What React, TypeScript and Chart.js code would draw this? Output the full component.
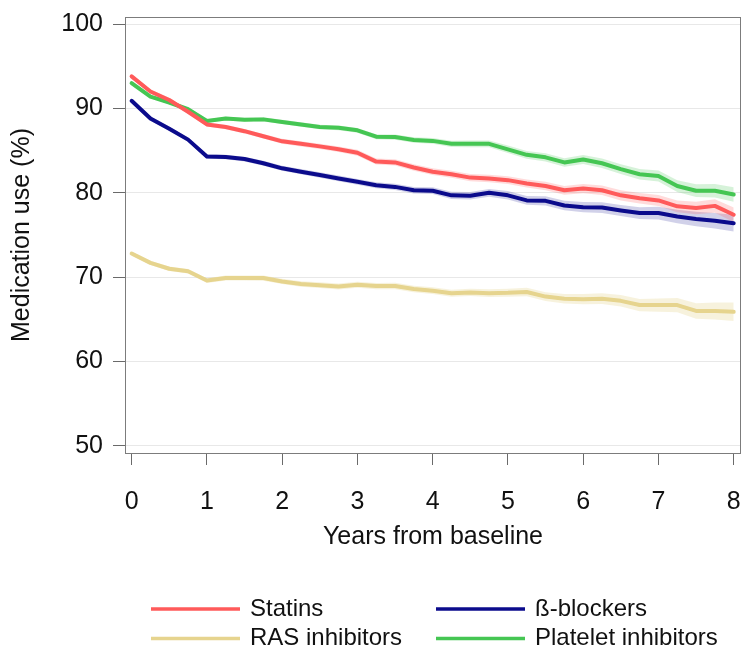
import React, { useEffect, useRef } from "react";
import { Chart, registerables } from "chart.js";

Chart.register(...registerables);

// ---- data ----
const years = [0, 0.25, 0.5, 0.75, 1, 1.25, 1.5, 1.75, 2, 2.25, 2.5, 2.75, 3, 3.25, 3.5, 3.75, 4, 4.25, 4.5, 4.75, 5, 5.25, 5.5, 5.75, 6, 6.25, 6.5, 6.75, 7, 7.25, 7.5, 7.75, 8];

const statins = [93.8, 92.0, 91.0, 89.6, 88.1, 87.8, 87.3, 86.7, 86.1, 85.8, 85.5, 85.15, 84.75, 83.7, 83.6, 83.0, 82.5, 82.2, 81.8, 81.7, 81.5, 81.1, 80.8, 80.3, 80.5, 80.3, 79.7, 79.35, 79.1, 78.4, 78.2, 78.45, 77.4];
const blockers = [90.9, 88.8, 87.6, 86.3, 84.3, 84.25, 84.0, 83.5, 82.9, 82.5, 82.1, 81.7, 81.3, 80.9, 80.7, 80.3, 80.25, 79.7, 79.65, 80.0, 79.7, 79.1, 79.05, 78.5, 78.3, 78.25, 77.9, 77.6, 77.6, 77.2, 76.9, 76.7, 76.4];
const ras = [72.8, 71.7, 71.0, 70.7, 69.6, 69.9, 69.9, 69.9, 69.5, 69.2, 69.05, 68.9, 69.1, 68.95, 68.95, 68.6, 68.4, 68.1, 68.2, 68.1, 68.15, 68.25, 67.7, 67.45, 67.4, 67.45, 67.2, 66.7, 66.7, 66.7, 66.0, 66.0, 65.9];
const platelet = [93.0, 91.4, 90.7, 89.9, 88.5, 88.8, 88.65, 88.7, 88.4, 88.1, 87.8, 87.7, 87.4, 86.65, 86.6, 86.25, 86.15, 85.8, 85.8, 85.8, 85.15, 84.5, 84.2, 83.6, 83.95, 83.5, 82.8, 82.2, 82.0, 80.8, 80.25, 80.25, 79.8];

// confidence-band half widths (percentage points)
const statinsCI = [0.25, 0.25, 0.25, 0.25, 0.25, 0.26, 0.27, 0.28, 0.3, 0.31, 0.32, 0.33, 0.35, 0.36, 0.37, 0.38, 0.4, 0.41, 0.42, 0.44, 0.45, 0.47, 0.5, 0.52, 0.55, 0.57, 0.6, 0.62, 0.65, 0.7, 0.75, 0.8, 0.85];
const blockersCI = [0.25, 0.25, 0.25, 0.25, 0.26, 0.27, 0.28, 0.29, 0.3, 0.31, 0.33, 0.34, 0.35, 0.36, 0.38, 0.39, 0.4, 0.42, 0.44, 0.46, 0.5, 0.52, 0.55, 0.57, 0.6, 0.63, 0.66, 0.7, 0.75, 0.8, 0.86, 0.92, 1.0];
const rasCI = [0.25, 0.25, 0.26, 0.27, 0.28, 0.29, 0.3, 0.31, 0.32, 0.33, 0.34, 0.35, 0.36, 0.37, 0.38, 0.39, 0.4, 0.42, 0.44, 0.46, 0.48, 0.5, 0.53, 0.56, 0.6, 0.64, 0.68, 0.72, 0.78, 0.85, 0.92, 1.0, 1.1];
const plateletCI = [0.2, 0.2, 0.2, 0.2, 0.21, 0.22, 0.23, 0.24, 0.25, 0.26, 0.27, 0.28, 0.29, 0.3, 0.31, 0.33, 0.35, 0.37, 0.39, 0.41, 0.44, 0.46, 0.48, 0.5, 0.53, 0.55, 0.58, 0.61, 0.65, 0.7, 0.75, 0.8, 0.85];

const seriesNames = ["Statins", "ß-blockers", "RAS inhibitors", "Platelet inhibitors"];
const xTicks = [0, 1, 2, 3, 4, 5, 6, 7, 8];
const yTicks = [50, 60, 70, 80, 90, 100];
const xTitle = "Years from baseline";
const yTitle = "Medication use (%)";

// ---- styles ----
const FONT = '"Liberation Sans", Arial, Helvetica, sans-serif';
const TEXT = "#111111";
const lineColors = ["#ff5a5a", "#0b0b8c", "#e6d48e", "#45c653"];
const bandColors = [
  "rgba(255,90,90,0.22)",
  "rgba(11,11,140,0.19)",
  "rgba(230,212,142,0.30)",
  "rgba(69,198,83,0.22)",
];

const seriesValues = [statins, blockers, ras, platelet];
const seriesCI = [statinsCI, blockersCI, rasCI, plateletCI];

const pts = (vals: number[]) => years.map((x, i) => ({ x, y: vals[i] }));

const zeroPad = (scale: any) => {
  scale.paddingLeft = 0;
  scale.paddingRight = 0;
  scale.paddingTop = 0;
  scale.paddingBottom = 0;
};

const boxPlugin = {
  id: "frameBox",
  afterDraw(chart: any) {
    const { ctx, chartArea } = chart;
    ctx.save();
    ctx.strokeStyle = "#7c7c7c";
    ctx.lineWidth = 1;
    ctx.strokeRect(
      Math.round(chartArea.left) + 0.5,
      Math.round(chartArea.top) + 0.5,
      Math.round(chartArea.right - chartArea.left) - 1,
      Math.round(chartArea.bottom - chartArea.top)
    );
    ctx.restore();
  },
};

const legendPlugin = {
  id: "gridLegend",
  afterDraw(chart: any) {
    const ctx = chart.ctx;
    const colX = [151, 436];
    const rowY = [609, 638.5];
    const lineLen = 89;
    const gap = 10;
    const layout = [
      { s: 0, c: 0, r: 0 },
      { s: 1, c: 1, r: 0 },
      { s: 2, c: 0, r: 1 },
      { s: 3, c: 1, r: 1 },
    ];
    ctx.save();
    ctx.font = `24px ${FONT}`;
    ctx.textBaseline = "middle";
    ctx.textAlign = "left";
    layout.forEach(({ s, c, r }) => {
      const x = colX[c];
      const y = rowY[r];
      ctx.strokeStyle = lineColors[s];
      ctx.lineWidth = 3.5;
      ctx.beginPath();
      ctx.moveTo(x, y);
      ctx.lineTo(x + lineLen, y);
      ctx.stroke();
      ctx.fillStyle = TEXT;
      ctx.fillText(seriesNames[s], x + lineLen + gap, y);
    });
    ctx.restore();
  },
};

export default function App() {
  const ref = useRef<HTMLCanvasElement | null>(null);

  useEffect(() => {
    document.body.style.margin = "0";
    if (!ref.current) return;

    const lineSets = seriesValues.map((vals, i) => ({
      label: seriesNames[i],
      data: pts(vals),
      borderColor: lineColors[i],
      backgroundColor: lineColors[i],
      borderWidth: 4,
      borderJoinStyle: "round" as const,
      borderCapStyle: "round" as const,
      pointRadius: 0,
      tension: 0,
      fill: false,
      order: 0,
    }));

    const bandSets: any[] = [];
    seriesValues.forEach((vals, i) => {
      const ci = seriesCI[i];
      const lowIndex = lineSets.length + bandSets.length;
      bandSets.push({
        label: seriesNames[i] + " lower",
        data: years.map((x, k) => ({ x, y: vals[k] - ci[k] })),
        borderColor: "rgba(0,0,0,0)",
        borderWidth: 0,
        pointRadius: 0,
        tension: 0,
        fill: false,
        order: 1,
      });
      bandSets.push({
        label: seriesNames[i] + " upper",
        data: years.map((x, k) => ({ x, y: vals[k] + ci[k] })),
        borderColor: "rgba(0,0,0,0)",
        backgroundColor: bandColors[i],
        borderWidth: 0,
        pointRadius: 0,
        tension: 0,
        fill: { target: lowIndex },
        order: 1,
      });
    });

    const chart = new Chart(ref.current, {
      type: "line",
      data: { datasets: [...lineSets, ...bandSets] },
      plugins: [boxPlugin, legendPlugin],
      options: {
        responsive: false,
        animation: false,
        events: [],
        layout: { padding: { top: 17, right: 3, bottom: 90, left: 0 } },
        plugins: {
          legend: { display: false },
          tooltip: { enabled: false },
        },
        scales: {
          x: {
            type: "linear",
            min: -0.088,
            max: 8.097,
            afterBuildTicks: (scale: any) => {
              scale.ticks = xTicks.map((v) => ({ value: v }));
            },
            afterFit: (scale: any) => {
              scale.height = 106;
              zeroPad(scale);
            },
            grid: {
              drawOnChartArea: false,
              drawTicks: true,
              tickLength: 12,
              tickColor: "#6a6a6a",
              tickWidth: 1,
            },
            border: { display: false },
            ticks: {
              padding: 22,
              color: TEXT,
              font: { family: FONT, size: 25 },
              maxRotation: 0,
              autoSkip: false,
            },
            title: {
              display: true,
              text: xTitle,
              color: TEXT,
              font: { family: FONT, size: 25 },
              padding: { top: 4, bottom: 7 },
            },
          },
          y: {
            type: "linear",
            min: 49.17,
            max: 100.83,
            afterBuildTicks: (scale: any) => {
              scale.ticks = yTicks.map((v) => ({ value: v }));
            },
            afterFit: (scale: any) => {
              scale.width = 125;
              zeroPad(scale);
            },
            grid: {
              color: "#e8e8e8",
              lineWidth: 1,
              drawTicks: true,
              tickLength: 12,
              tickColor: "#6a6a6a",
              tickWidth: 1,
            },
            border: { display: false },
            ticks: {
              padding: 10,
              color: TEXT,
              font: { family: FONT, size: 25 },
              autoSkip: false,
            },
            title: {
              display: true,
              text: yTitle,
              color: TEXT,
              font: { family: FONT, size: 25 },
              padding: { top: 7, bottom: 4 },
            },
          },
        },
      },
    });

    return () => chart.destroy();
  }, []);

  return (
    <div style={{ width: 744, height: 649 }}>
      <canvas ref={ref} width={744} height={649} style={{ display: "block" }} />
    </div>
  );
}
